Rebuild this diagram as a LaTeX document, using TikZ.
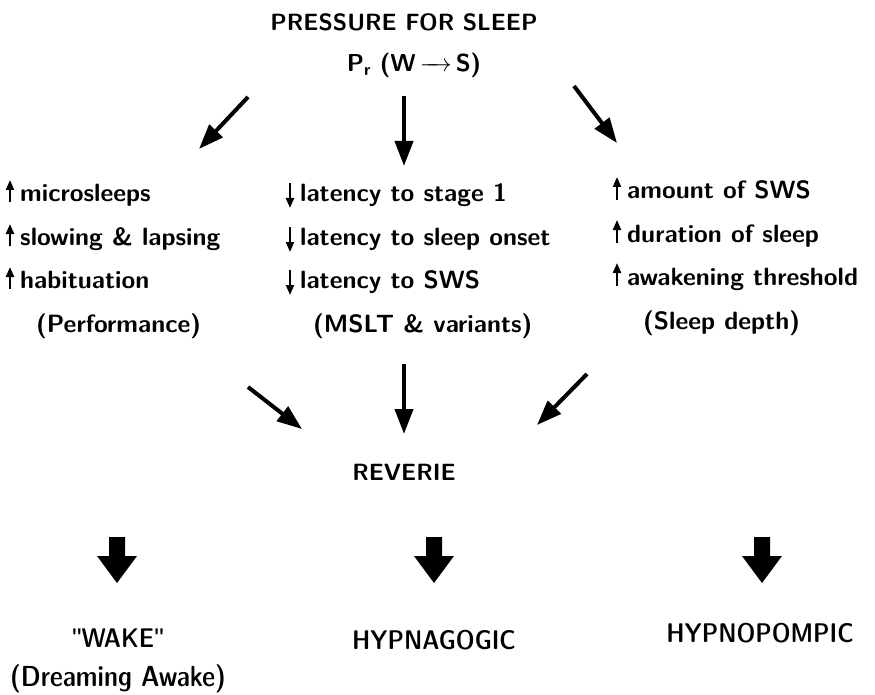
\documentclass[tikz,border=0pt]{standalone}
\usepackage{fontspec}
\newfontfamily\qfont{Liberation Sans}
\usetikzlibrary{arrows.meta}
\begin{document}
\begin{tikzpicture}[x=1pt,y=-1pt,
  txt/.style={font=\fontsize{25}{30}\sffamily\bfseries, inner sep=0pt, anchor=base west},
  ttl/.style={font=\fontsize{23.5}{28}\sffamily\bfseries, inner sep=0pt, anchor=base},
  btm/.style={font=\fontsize{27}{32}\sffamily\fontseries{sbc}\selectfont, inner sep=0pt, anchor=base},
  bigarr/.style={line width=4pt, -{Triangle[length=25pt,width=18pt]}},
  smarr/.style={line width=2.2pt, -{Triangle[length=10pt,width=8pt]}},
  blockarr/.style={fill=black}]
\useasboundingbox (0,0) rectangle (875,695);
% title
\node[ttl] (title) at (404,31) {PRESSURE FOR SLEEP};
\node[ttl, font=\fontsize{24.5}{29}\sffamily\bfseries] (pr) at (414,72) {P\textsubscript{r} (W\,$\mathrel{\relbar\joinrel\mkern-6mu\rightarrow}$\,S)};
% top arrows
\coordinate (t1s) at (248,97);  \coordinate (t1e) at (199,149);
\coordinate (t2s) at (404,96);  \coordinate (t2e) at (404,166);
\coordinate (t3s) at (574,86);  \coordinate (t3e) at (617,143);
\draw[bigarr] (t1s) -- (t1e);
\draw[bigarr] (t2s) -- (t2e);
\draw[bigarr] (t3s) -- (t3e);
% left column
\node[txt] (l1) at (20,201) {microsleeps};
\node[txt] (l2) at (20,245) {slowing \& lapsing};
\node[txt] (l3) at (20,288) {habituation};
\node[txt] (l4) at (36,332) {(Performance)};
\coordinate (la1) at (10,202); \coordinate (lb1) at (10,180);
\coordinate (la2) at (10,246); \coordinate (lb2) at (10,224);
\coordinate (la3) at (10,289); \coordinate (lb3) at (10,267);
\draw[smarr] (la1) -- (lb1);
\draw[smarr] (la2) -- (lb2);
\draw[smarr] (la3) -- (lb3);
% middle column
\node[txt] (m1) at (300,201) {latency to stage 1};
\node[txt] (m2) at (300,245) {latency to sleep onset};
\node[txt] (m3) at (300,288) {latency to SWS};
\node[txt] (m4) at (313,332) {(MSLT \& variants)};
\coordinate (ma1) at (290,183); \coordinate (mb1) at (290,208);
\coordinate (ma2) at (290,227); \coordinate (mb2) at (290,252);
\coordinate (ma3) at (290,270); \coordinate (mb3) at (290,295);
\draw[smarr] (ma1) -- (mb1);
\draw[smarr] (ma2) -- (mb2);
\draw[smarr] (ma3) -- (mb3);
% right column
\node[txt] (r1) at (627,199) {amount of SWS};
\node[txt] (r2) at (627,242) {duration of sleep};
\node[txt] (r3) at (627,285) {awakening threshold};
\node[txt] (r4) at (643,329) {(Sleep depth)};
\coordinate (ra1) at (617,200); \coordinate (rb1) at (617,177);
\coordinate (ra2) at (617,243); \coordinate (rb2) at (617,220);
\coordinate (ra3) at (617,286); \coordinate (rb3) at (617,263);
\draw[smarr] (ra1) -- (rb1);
\draw[smarr] (ra2) -- (rb2);
\draw[smarr] (ra3) -- (rb3);
% second arrows
\coordinate (s1s) at (248,387); \coordinate (s1e) at (302,429);
\coordinate (s2s) at (404,364); \coordinate (s2e) at (404,434);
\coordinate (s3s) at (587,374); \coordinate (s3e) at (537,425);
\draw[bigarr] (s1s) -- (s1e);
\draw[bigarr] (s2s) -- (s2e);
\draw[bigarr] (s3s) -- (s3e);
\node[ttl] (rev) at (404,480) {REVERIE};
% block arrows
\foreach \x in {117,434,762}{
  \fill[blockarr] (\x-8,537) -- (\x+8,537) -- (\x+8,556) -- (\x+20,556) -- (\x,583) -- (\x-20,556) -- (\x-8,556) -- cycle;
}
% bottom labels
\node[btm] (wake) at (118,647) {{\qfont"}WAKE{\qfont"}};
\node[btm, font=\fontsize{29}{34}\sffamily\fontseries{sbc}\selectfont] (dream) at (118,686) {(Dreaming Awake)};
\node[btm] (hypna) at (434,649) {HYPNAGOGIC};
\node[btm] (hypno) at (760,642) {HYPNOPOMPIC};
\end{tikzpicture}
\end{document}
